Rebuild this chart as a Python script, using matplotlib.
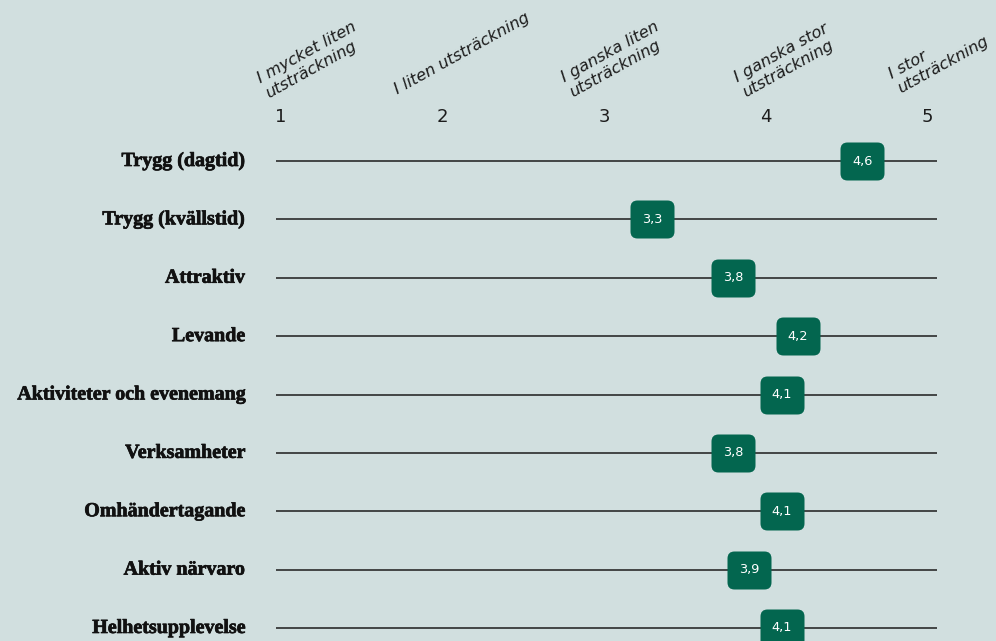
import matplotlib
matplotlib.use("Agg")
import matplotlib.pyplot as plt
from matplotlib.patches import BoxStyle
import matplotlib.patheffects as pe

categories = [
    "Trygg (dagtid)",
    "Trygg (kvällstid)",
    "Attraktiv",
    "Levande",
    "Aktiviteter och evenemang",
    "Verksamheter",
    "Omhändertagande",
    "Aktiv närvaro",
    "Helhetsupplevelse",
]
values = [4.6, 3.3, 3.8, 4.2, 4.1, 3.8, 4.1, 3.9, 4.1]
scale_ticks = [1, 2, 3, 4, 5]
scale_labels = [
    "I mycket liten\nutsträckning",
    "I liten utsträckning",
    "I ganska liten\nutsträckning",
    "I ganska stor\nutsträckning",
    "I stor\nutsträckning",
]

BG = "#d1dfdf"
GREEN = "#03664f"
INK = "#1c1c1c"

W, H = 996, 641
fig = plt.figure(figsize=(W / 100, H / 100), dpi=100, facecolor=BG)
ax = fig.add_axes([0, 0, 1, 1])
ax.set_facecolor(BG)
ax.axis("off")

# pixel -> data helpers (layout only)
PX1, PXU = 281.0, 161.5          # pixel of value 1, pixels per unit
ROW0, ROWSTEP = 161.0, 58.375    # pixel of first row, pixels per row
def xd(px):
    return 1 + (px - PX1) / PXU
def yd(py):
    return (py - ROW0) / ROWSTEP

ax.set_xlim(xd(0), xd(W))
ax.set_ylim(yd(H), yd(0))

rows = list(range(len(categories)))

# horizontal lines
ax.hlines(rows, xd(276), xd(937), color=INK, lw=1.1, zorder=1)

# rounded-rectangle marker
bw, bh, rad = 2.0, 2.0 * 38 / 44, 7 / 22
box_path = BoxStyle.Round(pad=0, rounding_size=rad)(-bw / 2, -bh / 2, bw, bh, 1.0)
ax.plot(values, rows, ls="none", marker=box_path, ms=44 * 0.72,
        mfc=GREEN, mec="none", mew=0, zorder=3)

for v, r in zip(values, rows):
    ax.text(v, r, f"{v:.1f}".replace(".", ","), ha="center", va="center",
            color="white", fontsize=9.3, family="DejaVu Sans", zorder=4)

# category labels
for c, r in zip(categories, rows):
    ax.text(xd(245), r, c, ha="right", va="center", fontsize=14.4,
            family="Liberation Serif", fontweight="bold", color="#111111",
            path_effects=[pe.withStroke(linewidth=0.5, foreground="#111111")])

# scale numbers
for t in scale_ticks:
    ax.text(t, yd(117), str(t), ha="center", va="center", fontsize=13,
            family="DejaVu Sans", color=INK)

# rotated scale labels (anchor = bottom-left of text block, in pixels)
anchors = [(270, 101), (399, 96.5), (574, 100), (747, 100), (902, 96)]
for lab, (px, py) in zip(scale_labels, anchors):
    ax.text(xd(px), yd(py), lab, rotation=29, rotation_mode="anchor",
            ha="left", va="bottom", multialignment="left",
            fontsize=11.7, family="DejaVu Sans", style="italic", color=INK,
            linespacing=1.15)

fig.savefig("out.png", dpi=100, facecolor=BG)
